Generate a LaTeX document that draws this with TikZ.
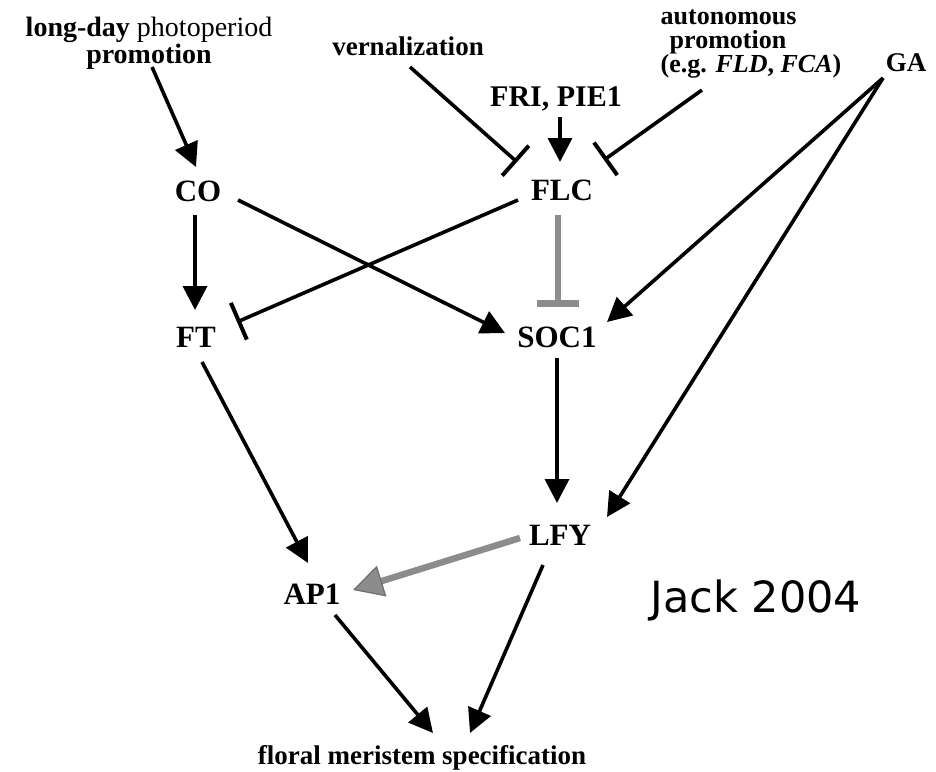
\documentclass[tikz,border=0pt]{standalone}
\usepackage{fontspec}
\setmainfont{Liberation Serif}
\newfontfamily\jackfont{DejaVu Sans}
\usetikzlibrary{arrows.meta}
\definecolor{inhgray}{HTML}{8C8C8C}
\definecolor{inhgraydk}{HTML}{6E6E6E}
\tikzset{
  lbl/.style={inner sep=0pt, outer sep=0pt, font=\fontsize{27}{25}\selectfont\bfseries},
  gene/.style={inner sep=0pt, outer sep=0pt, font=\fontsize{31}{31}\selectfont\bfseries, text height=20.5pt, text depth=0pt},
  arr/.style={line width=3.6pt, -{Triangle[length=24pt,width=24pt]}},
  inh/.style={line width=3.6pt, -{Bar[width=40pt,line width=4pt]}},
  ginh/.style={line width=6pt, draw=inhgray, -{Bar[width=42pt,line width=7pt]}},
  garr/.style={line width=6.5pt, draw=inhgray, -{Triangle[length=30pt,width=32pt,fill=inhgray,color=inhgraydk,line width=1.2pt]}}
}
\begin{document}
\begin{tikzpicture}[x=1pt,y=-1pt]
\useasboundingbox (0,0) rectangle (936,771);
% nodes
\node[lbl, align=center, font=\fontsize{28}{25}\selectfont\bfseries] (lday) at (149,43) {long-day \textmd{photoperiod}\\promotion};
\node[lbl, anchor=base] (vern) at (408,55) {vernalization};
\node[lbl, align=left, font=\fontsize{26}{24}\selectfont\bfseries] (auto) at (751,44) {autonomous\\\hspace*{9pt}promotion\\(e.g. \textit{FLD}, \textit{FCA})};
\node[lbl, text height=18pt, text depth=0pt] (GA) at (906,62) {GA};
\node[gene, font=\fontsize{30}{30}\selectfont\bfseries] (FRI) at (556,96) {FRI, PIE1};
\node[gene] (CO) at (198,191) {CO};
\node[gene] (FLC) at (562,190) {FLC};
\node[gene] (FT) at (196,337) {FT};
\node[gene] (SOC1) at (557,337) {SOC1};
\node[gene] (LFY) at (560,535) {LFY};
\node[gene] (AP1) at (312,594) {AP1};
\node[lbl, anchor=base] (floral) at (422,764) {floral meristem specification};
\node[inner sep=0pt, font=\fontsize{43}{43}\selectfont\jackfont] (jack) at (756,600) {Jack 2004};
% connectors
\draw[arr] ([shift={(3,24)}]lday.center) -- ([shift={(-2,-24)}]CO.center);
\draw[inh] ([shift={(2,12)}]vern.base) -- ([shift={(-45,-28)}]FLC.center);
\draw[arr] ([shift={(4,21)}]FRI.center) -- ([shift={(-2,-28)}]FLC.center);
\draw[inh] ([shift={(-49,46)}]auto.center) -- ([shift={(42,-30)}]FLC.center);
\draw[arr] ([shift={(-3,24)}]CO.center) -- ([shift={(-1,-27)}]FT.center);
\draw[arr] ([shift={(40,9)}]CO.center) -- ([shift={(-52,-4)}]SOC1.center);
\draw[inh] ([shift={(-44,10)}]FLC.center) -- ([shift={(41,-15)}]FT.center);
\draw[ginh] ([shift={(-4,25)}]FLC.center) -- ([shift={(1,-30)}]SOC1.center);
\draw[arr] ([shift={(-23,16)}]GA.center) -- ([shift={(50,-15)}]SOC1.center);
\draw[arr] ([shift={(-23,16)}]GA.center) -- ([shift={(47,-18)}]LFY.center);
\draw[arr] ([shift={(0,21)}]SOC1.center) -- ([shift={(-3,-32)}]LFY.center);
\draw[arr] ([shift={(6,25)}]FT.center) -- ([shift={(-4,-31)}]AP1.center);
\draw[garr] ([shift={(-40,3)}]LFY.center) -- ([shift={(41,-4)}]AP1.center);
\draw[arr] ([shift={(23,21)}]AP1.center) -- ([shift={(11,-31)}]floral.base);
\draw[arr] ([shift={(-17,30)}]LFY.center) -- ([shift={(48,-31)}]floral.base);
\end{tikzpicture}
\end{document}
